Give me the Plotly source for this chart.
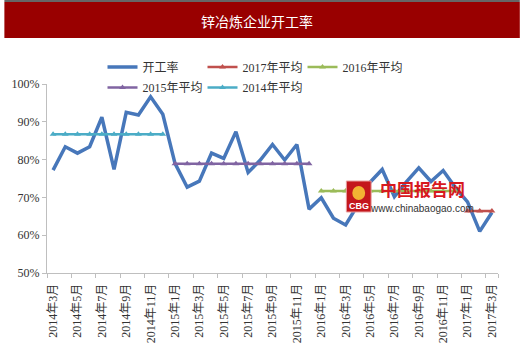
import plotly.graph_objects as go

months = ["2014年3月", "2014年4月", "2014年5月", "2014年6月", "2014年7月", "2014年8月",
          "2014年9月", "2014年10月", "2014年11月", "2014年12月",
          "2015年1月", "2015年2月", "2015年3月", "2015年4月", "2015年5月", "2015年6月",
          "2015年7月", "2015年8月", "2015年9月", "2015年10月", "2015年11月", "2015年12月",
          "2016年1月", "2016年2月", "2016年3月", "2016年4月", "2016年5月", "2016年6月",
          "2016年7月", "2016年8月", "2016年9月", "2016年10月", "2016年11月", "2016年12月",
          "2017年1月", "2017年2月", "2017年3月"]

rate = [77.2, 83.4, 81.7, 83.4, 91.2, 77.4, 92.5, 91.8, 96.6, 92.0,
        79.0, 72.7, 74.3, 81.7, 80.3, 87.4, 76.6, 79.9, 84.0, 79.9, 84.0, 66.9,
        69.9, 64.5, 62.7, 68.0, 74.0, 77.4, 70.2, 74.2, 77.8, 74.2, 77.1, 72.6,
        68.8, 61.0, 66.0]

avg_2014 = 86.7
avg_2015 = 78.9
avg_2016 = 71.7
avg_2017 = 66.4

months_2014 = months[0:10]
months_2015 = months[10:22]
months_2016 = months[22:34]
months_2017 = months[34:37]

tick_labels = months[::2]
y_ticks = [50, 60, 70, 80, 90, 100]

# plot-area pixel geometry helpers (for decoration placement)
L, R, T, B = 43, 498, 84, 273
def px_x(x):
    return (x - L) / (R - L)
def px_y(y):
    return (B - y) / (B - T)

SERIF = "Liberation Serif, 'Times New Roman', 'Noto Sans CJK SC', serif"

fig = go.Figure()
fig.add_trace(go.Scatter(x=months, y=rate, name="开工率", mode="lines",
                         line=dict(color="#4777BA", width=3.5), legend="legend"))
fig.add_trace(go.Scatter(x=months_2017, y=[avg_2017] * len(months_2017), name="2017年平均",
                         mode="lines+markers", line=dict(color="#C0504D", width=2.5),
                         marker=dict(symbol="triangle-up", size=6), legend="legend"))
fig.add_trace(go.Scatter(x=months_2016, y=[avg_2016] * len(months_2016), name="2016年平均",
                         mode="lines+markers", line=dict(color="#9BBB59", width=2.5),
                         marker=dict(symbol="triangle-up", size=6), legend="legend"))
fig.add_trace(go.Scatter(x=months_2015, y=[avg_2015] * len(months_2015), name="2015年平均",
                         mode="lines+markers", line=dict(color="#8064A2", width=2.5),
                         marker=dict(symbol="triangle-up", size=6), legend="legend2"))
fig.add_trace(go.Scatter(x=months_2014, y=[avg_2014] * len(months_2014), name="2014年平均",
                         mode="lines+markers", line=dict(color="#4BACC6", width=2.5),
                         marker=dict(symbol="triangle-up", size=6), legend="legend2"))

legend_common = dict(orientation="h", xanchor="left", yanchor="middle",
                     bgcolor="rgba(0,0,0,0)", font=dict(family=SERIF, size=12, color="#333"),
                     itemwidth=30, entrywidth=55, traceorder="normal")
fig.update_layout(
    width=520, height=356,
    margin=dict(l=L, r=520 - R, t=T, b=356 - B),
    paper_bgcolor="white", plot_bgcolor="white",
    showlegend=True,
    legend=dict(x=px_x(99), y=px_y(67), **legend_common),
    legend2=dict(x=px_x(99), y=px_y(87.5), **legend_common),
    xaxis=dict(type="category", categoryorder="array", categoryarray=months,
               range=[-0.5, len(months) - 0.5],
               tickmode="array", tickvals=tick_labels, ticktext=tick_labels,
               tickson="boundaries", ticks="outside", ticklen=4, tickcolor="#BFBFBF",
               tickangle=-90, tickfont=dict(family=SERIF, size=12, color="#333"),
               ticklabelstandoff=5,
               showline=True, linecolor="#BFBFBF", linewidth=1,
               showgrid=False, zeroline=False),
    yaxis=dict(range=[50, 100], tickmode="array", tickvals=y_ticks,
               ticktext=[f"{v}%" for v in y_ticks],
               ticks="outside", ticklen=4, tickcolor="#BFBFBF",
               tickfont=dict(family=SERIF, size=12, color="#333"),
               showline=True, linecolor="#BFBFBF", linewidth=1,
               showgrid=False, zeroline=False),
)

# title bar
fig.add_shape(type="rect", xref="paper", yref="paper",
              x0=px_x(0), x1=px_x(520), y0=px_y(38), y1=px_y(2),
              fillcolor="#990000", line=dict(width=0), layer="below")
fig.add_shape(type="rect", xref="paper", yref="paper",
              x0=px_x(0), x1=px_x(520), y0=px_y(2), y1=px_y(0),
              fillcolor="#666666", line=dict(width=0), layer="below")
fig.add_annotation(text="锌冶炼企业开工率", xref="paper", yref="paper",
                   x=px_x(255), y=px_y(21), xanchor="center", yanchor="middle",
                   showarrow=False, font=dict(family="Noto Sans CJK SC", size=14, color="white"))

# watermark
fig.add_shape(type="rect", xref="paper", yref="paper",
              x0=px_x(345), x1=px_x(370), y0=px_y(212), y1=px_y(181),
              fillcolor="#C4161C", line=dict(color="#E8A0A0", width=1), layer="above")
fig.add_shape(type="circle", xref="paper", yref="paper",
              x0=px_x(351), x1=px_x(364), y0=px_y(200), y1=px_y(186),
              fillcolor="#F2B233", line=dict(width=0), layer="above")
fig.add_annotation(text="<b>CBG</b>", xref="paper", yref="paper",
                   x=px_x(357.5), y=px_y(206), xanchor="center", yanchor="middle",
                   showarrow=False, font=dict(family="Liberation Sans", size=9, color="white"))
fig.add_annotation(text="<b>中国报告网</b>", xref="paper", yref="paper",
                   x=px_x(422), y=px_y(188.5), xanchor="center", yanchor="middle",
                   showarrow=False, font=dict(family="Noto Sans CJK SC", size=17, color="#D7191F"))
fig.add_annotation(text="www.chinabaogao.com", xref="paper", yref="paper",
                   x=px_x(421), y=px_y(208.5), xanchor="center", yanchor="middle",
                   showarrow=False, font=dict(family="Liberation Sans", size=10, color="#333"))

fig.write_html("out.html", config={"displayModeBar": False},
               post_script="document.body.style.margin='0';document.body.style.overflow='hidden';")
